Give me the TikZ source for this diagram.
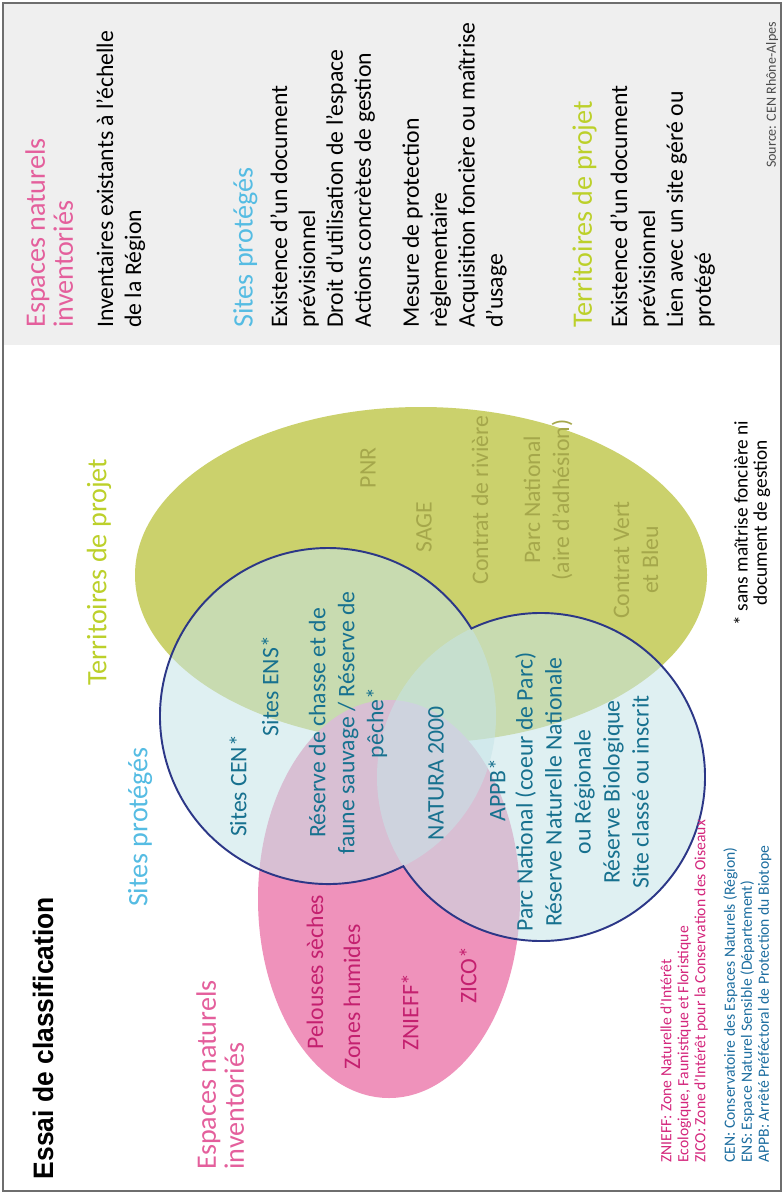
\documentclass[tikz,border=0pt]{standalone}
\usepackage{fontspec}
\setmainfont{Carlito}
\newfontfamily\titlefont{Liberation Sans}
\usetikzlibrary{positioning}

\definecolor{framegray}{HTML}{6E6E6E}
\definecolor{panelgray}{HTML}{EFEFEF}
\definecolor{invpink}{HTML}{E45F9C}
\definecolor{protcyan}{HTML}{55BCE3}
\definecolor{projlime}{HTML}{BCD02A}
\definecolor{ellgreen}{HTML}{CBD16C}
\definecolor{ellpink}{HTML}{EF92BB}
\definecolor{circfill}{HTML}{C6E4E8}
\definecolor{circline}{HTML}{2C3787}
\definecolor{olivetext}{HTML}{A5A74B}
\definecolor{tealtext}{HTML}{17718F}
\definecolor{magtext}{HTML}{C4206F}
\definecolor{legpink}{HTML}{D4267C}
\definecolor{legblue}{HTML}{1D6EA0}

\tikzset{
  vert/.style={rotate=90, inner sep=0pt},
  head/.style={vert, align=left, font=\fontsize{16}{16}\selectfont},
  body/.style={vert, align=left, font=\fontsize{13.5}{15.9}\selectfont},
  inset/.style={vert, align=center, font=\fontsize{13.5}{16.5}\selectfont},
  legend/.style={vert, anchor=north west, align=left, font=\fontsize{8.9}{9.7}\selectfont}
}

\begin{document}
\begin{tikzpicture}[x=0.02cm,y=-0.02cm]

\useasboundingbox (0,0) rectangle (783,1196);
\fill[white] (0,0) rectangle (783,1196);

% Grey side panel
\fill[panelgray] (4,4) rectangle (780,345);
\draw[framegray, line width=0.8pt] (3,3) rectangle (781,1191);

% Panel texts
\node[head, anchor=north west, text=invpink] (pinv) at (25,328) {Espaces naturels\\inventoriés};
\node[body, anchor=north west] (pinvtxt) at (96,328) {Inventaires existants à l’échelle\\de la Région};
\node[head, anchor=north west, text=protcyan] (pprot) at (233,328) {Sites protégés};
\node[body, anchor=north west] (pprottxt) at (270,328) {Existence d’un document\\prévisionnel\\Droit d’utilisation de l’espace\\Actions concrètes de gestion};
\node[body, anchor=north west] (pprottxtb) at (402,328) {Mesure de protection\\règlementaire\\Acquisition foncière ou maîtrise\\d’usage};
\node[head, anchor=north west, text=projlime] (pproj) at (572,328) {Territoires de projet};
\node[body, anchor=north west] (pprojtxt) at (610,328) {Existence d’un document\\prévisionnel\\Lien avec un site géré ou\\protégé};
\node[vert, font=\fontsize{8}{9}\selectfont, text=black!70] (src) at (772,95) {Source: CEN Rhône-Alpes};

% Title
\node[vert, font=\titlefont\bfseries\fontsize{16}{18}\selectfont] (title) at (43,1038) {\scalebox{0.94}[1]{Essai de classification}};

% Ellipses
\fill[ellgreen] (421,575) ellipse [x radius=286, y radius=168];
\fill[ellpink] (389,899) ellipse [x radius=131, y radius=199];

% Protected sites: two circles
\coordinate (c1) at (328,716);
\coordinate (c2) at (541,777);
\coordinate (ptop) at (471.42,628.5);
\coordinate (pbot) at (403.36,866.16);
\fill[circfill, fill opacity=0.55] (c1) circle [radius=168];
\fill[circfill, fill opacity=0.55] (c2) circle [radius=164];
\draw[circline, line width=1.1pt] (ptop) arc [start angle=-115.10, end angle=147.07, radius=164]
  arc [start angle=63.35, end angle=328.61, radius=168] -- cycle;

% Group labels
\node[head, text=projlime] (lproj) at (99,572) {Territoires de projet};
\node[head, text=protcyan] (lprot) at (140,827) {Sites protégés};
\node[head, anchor=north west, text=invpink] (linv) at (196,1170) {Espaces naturels\\inventoriés};

% Territoires de projet
\node[inset, text=olivetext] (pnr) at (368,468) {PNR};
\node[inset, text=olivetext] (sage) at (424,527) {SAGE};
\node[inset, text=olivetext] (riv) at (480,500) {Contrat de rivière};
\node[inset, text=olivetext] (pnadh) at (548,500) {Parc National\\(aire d’adhésion)};
\node[inset, text=olivetext] (cvb) at (636,560) {Contrat Vert\\et Bleu};

% Sites proteges
\node[inset, text=tealtext] (ens) at (270,686) {Sites ENS*};
\node[inset, text=tealtext] (cen) at (238,786) {Sites CEN*};
\node[inset, text=tealtext] (chasse) at (348,723) {Réserve de chasse et de\\faune sauvage / Réserve de\\pêche*};
\node[inset, text=tealtext] (natura) at (436,773) {NATURA 2000};
\node[inset, text=tealtext] (appb) at (497,790) {APPB*};
\node[inset, text=tealtext] (coeur) at (582,792) {Parc National (coeur de Parc)\\Réserve Naturelle Nationale\\ou Régionale\\Réserve Biologique\\Site classé ou inscrit};

% Espaces naturels inventories
\node[inset, text=magtext] (pel) at (315,972) {Pelouses sèches};
\node[inset, text=magtext] (zh) at (352,997) {Zones humides};
\node[inset, text=magtext] (znieff) at (410,1012) {ZNIEFF*};
\node[inset, text=magtext] (zico) at (468,975) {ZICO*};

% Note and legend
\node[vert, align=center, font=\fontsize{11}{11}\selectfont] (note) at (752,523) {* sans maîtrise foncière ni\\document de gestion};
\node[legend, text=legpink] (legz) at (660,1163) {ZNIEFF: Zone Naturelle d’Intérêt\\Ecologique, Faunistique et Floristique\\ZICO: Zone d’Intérêt pour la Conservation des Oiseaux};
\node[legend, text=legblue] (legc) at (723,1163) {CEN: Conservatoire des Espaces Naturels (Région)\\ENS: Espace Naturel Sensible (Département)\\APPB: Arrêté Préféctoral de Protection du Biotope};

\end{tikzpicture}
\end{document}
